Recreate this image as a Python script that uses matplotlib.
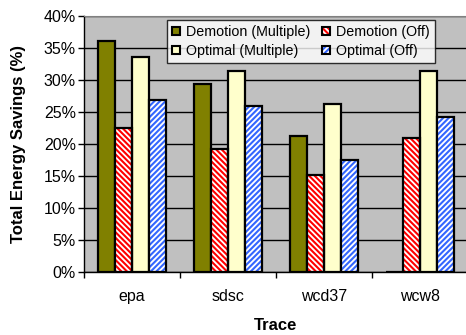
import matplotlib
matplotlib.use("Agg")
import matplotlib.pyplot as plt
import numpy as np
from matplotlib.patches import Patch
from matplotlib.legend_handler import HandlerTuple

plt.rcParams['font.family'] = ['Liberation Sans', 'DejaVu Sans']
plt.rcParams['hatch.linewidth'] = 1.5

categories = ["epa", "sdsc", "wcd37", "wcw8"]
demotion_multiple = [36.1, 29.4, 21.3, 0.0]
demotion_off = [22.5, 19.2, 15.2, 20.9]
optimal_multiple = [33.6, 31.4, 26.3, 31.4]
optimal_off = [26.9, 25.9, 17.5, 24.2]
yticks = [0, 5, 10, 15, 20, 25, 30, 35, 40]

RED_HATCH = '\\' * 6
BLUE_HATCH = '/' * 6

W, H = 466, 335
fig = plt.figure(figsize=(W/100, H/100), dpi=100)
ax = fig.add_axes([84/W, (H-272)/H, 384/W, 256/H])
ax.set_facecolor('#C0C0C0')

x = np.arange(len(categories))
bw = 0.178
series = [
    (demotion_multiple, '#808000', None, None, "Demotion (Multiple)"),
    (demotion_off, 'white', RED_HATCH, '#FF0000', "Demotion (Off)"),
    (optimal_multiple, '#FFFFCC', None, None, "Optimal (Multiple)"),
    (optimal_off, 'white', BLUE_HATCH, '#3366FF', "Optimal (Off)"),
]
for i, (vals, fc, hatch, hc, lab) in enumerate(series):
    pos = x + (i - 1.5) * bw
    if hatch:
        ax.bar(pos, vals, bw, color=fc, edgecolor=hc, hatch=hatch, linewidth=0, zorder=3)
        ax.bar(pos, vals, bw, facecolor='none', edgecolor='black', linewidth=1.6, zorder=4)
    else:
        ax.bar(pos, vals, bw, color=fc, edgecolor='black', linewidth=1.6, zorder=3)

ax.set_xlim(-0.5, 3.5)
ax.set_ylim(0, 40)
ax.set_yticks(yticks)
ax.set_yticklabels([f"{v}%" for v in yticks], fontsize=11.5)
ax.yaxis.grid(True, color='black', linewidth=1.0, zorder=1)
ax.set_axisbelow(True)
ax.set_xticks(x)
ax.set_xticklabels(categories, fontsize=11.5)
ax.set_xticks(np.arange(-0.5, 4, 1), minor=True)
ax.tick_params(axis='x', which='major', length=0, pad=12.5)
ax.tick_params(axis='x', which='minor', length=4.3, width=1, direction='out')
ax.tick_params(axis='y', length=4.3, width=1, direction='out', pad=1.5)
ax.spines['top'].set_color('#808080')
ax.spines['right'].set_visible(False)
ax.spines['left'].set_linewidth(1)
ax.spines['bottom'].set_linewidth(1)

ax.set_ylabel("Total Energy Savings (%)", fontsize=12, fontweight='bold')
ax.yaxis.set_label_coords(-(84 - 19) / 384, 0.5)
ax.set_xlabel("Trace", fontsize=12, fontweight='bold')
ax.xaxis.set_label_coords(0.5, -(325 - 272) / 256)
ax.xaxis.label.set_va('center')
ax.yaxis.label.set_va('center')

def hatched(fc, hc, hatch):
    return (Patch(facecolor=fc, edgecolor=hc, hatch=hatch, linewidth=0),
            Patch(facecolor='none', edgecolor='black', linewidth=1.5))

handles = [
    Patch(facecolor='#808000', edgecolor='black', linewidth=1.5),
    Patch(facecolor='#FFFFCC', edgecolor='black', linewidth=1.5),
    hatched('white', '#FF0000', RED_HATCH),
    hatched('white', '#3366FF', BLUE_HATCH),
]
labels = ["Demotion (Multiple)", "Optimal (Multiple)", "Demotion (Off)", "Optimal (Off)"]
leg = fig.legend(handles, labels, ncol=2, loc='upper left',
                 bbox_to_anchor=(167/W, 1 - 20/H), fontsize=10.3,
                 frameon=True, fancybox=False, edgecolor='black',
                 handlelength=0.56, handleheight=0.56, handletextpad=0.42,
                 columnspacing=0.84, borderpad=0.35, labelspacing=0.35,
                 borderaxespad=0,
                 handler_map={tuple: HandlerTuple(ndivide=1, pad=0)})
leg.get_frame().set_linewidth(1)

fig.savefig("out.png", dpi=100)
